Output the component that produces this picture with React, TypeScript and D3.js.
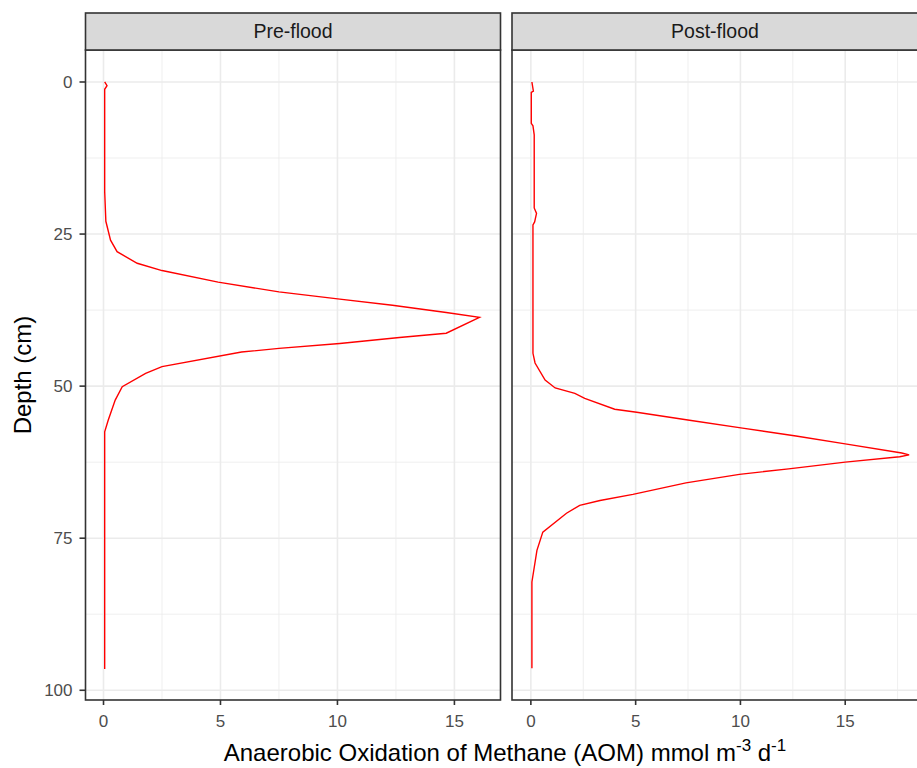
import { useEffect, useRef } from 'react'
import * as d3 from 'd3'

// depth (cm) and AOM rate
const preDepth = [0, 0.6, 1.2, 18, 22.9, 26, 27.9, 29.8, 31, 32.9, 34.5, 35.7, 36.7, 37.9, 38.7, 41.3, 42, 43, 43.8, 44.4, 46.8, 47.9, 50.1, 52.3, 55.6, 57.5, 96.5]
const preAom = [0.05, 0.15, 0.05, 0.05, 0.1, 0.3, 0.58, 1.44, 2.5, 4.9, 7.5, 10.1, 12.35, 14.65, 16.07, 14.65, 12.65, 10.1, 7.5, 5.9, 2.5, 1.8, 0.8, 0.5, 0.2, 0.05, 0.05]

const postDepth = [0, 1.5, 1.7, 6.8, 7.2, 8.7, 20.7, 21.6, 23, 23.5, 44.6, 46.2, 49, 50.3, 51.2, 52, 53.8, 54.3, 55.6, 56.9, 58.2, 59.5, 61, 61.3, 61.6, 62.5, 63.6, 64.5, 65.9, 67.8, 68.8, 69.6, 70.9, 74, 77, 82.2, 96.4]
const postAom = [0.05, 0.12, 0.02, 0.02, 0.1, 0.16, 0.16, 0.27, 0.18, 0.1, 0.1, 0.2, 0.68, 1.16, 2.1, 2.57, 4.0, 5.05, 7.57, 10.1, 12.65, 15.0, 17.7, 18.05, 17.6, 15.0, 12.3, 9.95, 7.4, 4.87, 3.3, 2.33, 1.7, 0.57, 0.29, 0.05, 0.05]

const facetLabels = ['Pre-flood', 'Post-flood']
const depthTicks = [0, 25, 50, 75, 100]
const depthMinor = [12.5, 37.5, 62.5, 87.5]
const aomTicks = [0, 5, 10, 15]
const aomMinor = [2.5, 7.5, 12.5, 17.5]

const W = 917
const H = 768

export default function App() {
  const svgRef = useRef<SVGSVGElement>(null)

  useEffect(() => {
    if (!svgRef.current) return
    const svg = d3.select(svgRef.current)
    svg.selectAll('*').remove()

    const top = 50
    const bottom = 700
    const stripTop = 13
    const panels = [
      { label: facetLabels[0], left: 85.5, right: 500.5, domain: [-0.77, 16.97], depth: preDepth, aom: preAom },
      { label: facetLabels[1], left: 512, right: 928, domain: [-0.9, 18.95], depth: postDepth, aom: postAom },
    ]

    const y = d3.scaleLinear().domain([-5.26, 101.6]).range([top, bottom])

    panels.forEach((p, i) => {
      const x = d3.scaleLinear().domain(p.domain).range([p.left, p.right])
      const g = svg.append('g')
      const clipId = `clip-${i}`
      g.append('clipPath').attr('id', clipId)
        .append('rect')
        .attr('x', p.left).attr('y', top)
        .attr('width', p.right - p.left).attr('height', bottom - top)

      const grid = g.append('g').attr('clip-path', `url(#${clipId})`)
      grid.append('rect')
        .attr('x', p.left).attr('y', top)
        .attr('width', p.right - p.left).attr('height', bottom - top)
        .attr('fill', 'white')

      // minor grid
      grid.selectAll('.ymin').data(depthMinor).enter().append('line')
        .attr('x1', p.left).attr('x2', p.right)
        .attr('y1', d => y(d)).attr('y2', d => y(d))
        .attr('stroke', '#ebebeb').attr('stroke-width', 0.8)
      grid.selectAll('.xmin').data(aomMinor.filter(v => v < p.domain[1])).enter().append('line')
        .attr('y1', top).attr('y2', bottom)
        .attr('x1', d => x(d)).attr('x2', d => x(d))
        .attr('stroke', '#ebebeb').attr('stroke-width', 0.8)
      // major grid
      grid.selectAll('.ymaj').data(depthTicks).enter().append('line')
        .attr('x1', p.left).attr('x2', p.right)
        .attr('y1', d => y(d)).attr('y2', d => y(d))
        .attr('stroke', '#ebebeb').attr('stroke-width', 1.6)
      grid.selectAll('.xmaj').data(aomTicks).enter().append('line')
        .attr('y1', top).attr('y2', bottom)
        .attr('x1', d => x(d)).attr('x2', d => x(d))
        .attr('stroke', '#ebebeb').attr('stroke-width', 1.6)

      const line = d3.line<number>()
        .x((_, k) => x(p.aom[k]))
        .y(d => y(d))
      grid.append('path')
        .datum(p.depth)
        .attr('fill', 'none')
        .attr('stroke', '#ff0000')
        .attr('stroke-width', 1.4)
        .attr('d', line)

      // panel border
      g.append('rect')
        .attr('x', p.left).attr('y', top)
        .attr('width', p.right - p.left).attr('height', bottom - top)
        .attr('fill', 'none').attr('stroke', '#333333').attr('stroke-width', 1.6)

      // strip
      g.append('rect')
        .attr('x', p.left).attr('y', stripTop)
        .attr('width', p.right - p.left).attr('height', top - stripTop)
        .attr('fill', '#d9d9d9').attr('stroke', '#333333').attr('stroke-width', 1.6)
      g.append('text')
        .attr('x', (p.left + p.right) / 2 - (i === 1 ? 5 : 0))
        .attr('y', (stripTop + top) / 2)
        .attr('dy', '0.35em')
        .attr('text-anchor', 'middle')
        .attr('fill', '#1a1a1a')
        .style('font-size', '19.5px')
        .text(p.label)

      // x axis
      const xa = g.append('g')
      xa.selectAll('line').data(aomTicks).enter().append('line')
        .attr('x1', d => x(d)).attr('x2', d => x(d))
        .attr('y1', bottom).attr('y2', bottom + 5)
        .attr('stroke', '#333333').attr('stroke-width', 1.6)
      xa.selectAll('text').data(aomTicks).enter().append('text')
        .attr('x', d => x(d)).attr('y', bottom + 27)
        .attr('text-anchor', 'middle')
        .attr('fill', '#4d4d4d')
        .style('font-size', '17px')
        .text(d => d)
    })

    // y axis on first panel
    const left = panels[0].left
    const ya = svg.append('g')
    ya.selectAll('line').data(depthTicks).enter().append('line')
      .attr('x1', left - 6).attr('x2', left)
      .attr('y1', d => y(d)).attr('y2', d => y(d))
      .attr('stroke', '#333333').attr('stroke-width', 1.6)
    ya.selectAll('text').data(depthTicks).enter().append('text')
      .attr('x', left - 13).attr('y', d => y(d))
      .attr('dy', '0.36em')
      .attr('text-anchor', 'end')
      .attr('fill', '#4d4d4d')
      .style('font-size', '17px')
      .text(d => d)

    // axis titles
    svg.append('text')
      .attr('transform', `translate(31,${(top + bottom) / 2}) rotate(-90)`)
      .attr('text-anchor', 'middle')
      .attr('fill', 'black')
      .style('font-size', '24px')
      .text('Depth (cm)')

    const xt = svg.append('text')
      .attr('x', 505).attr('y', 761)
      .attr('text-anchor', 'middle')
      .attr('fill', 'black')
      .style('font-size', '24px')
    xt.append('tspan').text('Anaerobic Oxidation of Methane (AOM) mmol m')
    xt.append('tspan').attr('dy', -10).style('font-size', '17px').text('-3')
    xt.append('tspan').attr('dy', 10).text(' d')
    xt.append('tspan').attr('dy', -10).style('font-size', '17px').text('-1')
  }, [])

  return (
    <svg
      ref={svgRef}
      width={W}
      height={H}
      style={{ position: 'absolute', left: 0, top: 0, fontFamily: 'Arial, "Liberation Sans", sans-serif', background: 'white' }}
    />
  )
}
